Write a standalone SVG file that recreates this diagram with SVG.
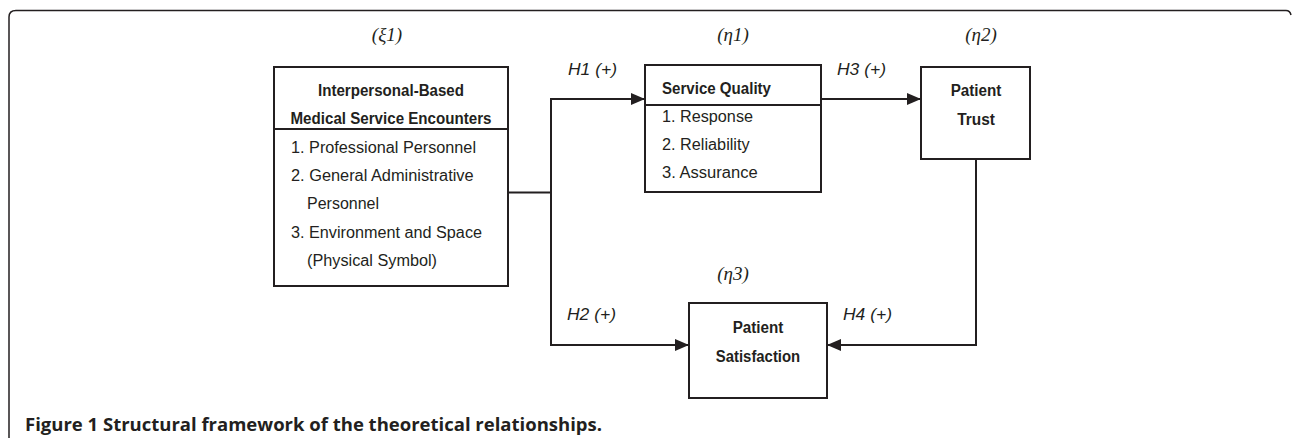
<svg xmlns="http://www.w3.org/2000/svg" width="1292" height="438" viewBox="0 0 1292 438">
<defs>
<style>
.box{fill:#fff;stroke:#231f20;stroke-width:2}
.ln{fill:none;stroke:#231f20;stroke-width:2}
.hd{font-family:"Liberation Sans",Arial,sans-serif;font-weight:bold;font-size:16px;fill:#231f20;text-anchor:middle}
.it{font-family:"Liberation Sans",Arial,sans-serif;font-size:16px;fill:#231f20}
.hl{font-family:"Liberation Sans",Arial,sans-serif;font-style:italic;font-size:16px;fill:#231f20}
.gk{font-family:"Liberation Serif","Times New Roman",serif;font-style:italic;font-size:19px;fill:#231f20;text-anchor:middle}
.cap{font-family:"Open Sans","Noto Sans",sans-serif;font-weight:bold;font-size:18px;fill:#231f20}
</style>
<marker id="arr" markerUnits="userSpaceOnUse" markerWidth="15" markerHeight="13" refX="14" refY="6.5" orient="auto">
<path d="M0,0.5 L14,6.5 L0,12.5 z" fill="#231f20"/>
</marker>
</defs>
<rect width="1292" height="438" fill="#fff"/>
<path d="M9,438 L9,17 Q9,10.5 16,10.5 L1286,10.5 Q1290,10.5 1291,15" fill="none" stroke="#231f20" stroke-width="1.5"/>

<g id="connectors">
<path class="ln" d="M508,192.5 L551,192.5"/>
<path class="ln" d="M551,98.5 L551,345"/>
<path class="ln" d="M550,99 L645,99" marker-end="url(#arr)"/>
<path class="ln" d="M550,345 L689,345" marker-end="url(#arr)"/>
<path class="ln" d="M821,99 L921,99" marker-end="url(#arr)"/>
<path class="ln" d="M976,159 L976,345 L827,345" marker-end="url(#arr)"/>
<text class="hl" x="568" y="75" textLength="49" lengthAdjust="spacingAndGlyphs">H1 (+)</text>
<text class="hl" x="837" y="75" textLength="49" lengthAdjust="spacingAndGlyphs">H3 (+)</text>
<text class="hl" x="567" y="320" textLength="49" lengthAdjust="spacingAndGlyphs">H2 (+)</text>
<text class="hl" x="843" y="320" textLength="49" lengthAdjust="spacingAndGlyphs">H4 (+)</text>
</g>

<g id="node-encounters">
<text class="gk" x="387" y="41">(ξ1)</text>
<rect class="box" x="274" y="67" width="234" height="219"/>
<path class="ln" d="M274,129 L508,129"/>
<text class="hd" x="391" y="96" textLength="146" lengthAdjust="spacingAndGlyphs">Interpersonal-Based</text>
<text class="hd" x="391" y="124" textLength="201" lengthAdjust="spacingAndGlyphs">Medical Service Encounters</text>
<text class="it" x="291" y="152.5" textLength="185" lengthAdjust="spacingAndGlyphs">1. Professional Personnel</text>
<text class="it" x="291" y="181" textLength="182.6" lengthAdjust="spacingAndGlyphs">2. General Administrative</text>
<text class="it" x="307" y="209" textLength="72" lengthAdjust="spacingAndGlyphs">Personnel</text>
<text class="it" x="291" y="237.5" textLength="191" lengthAdjust="spacingAndGlyphs">3. Environment and Space</text>
<text class="it" x="307" y="266" textLength="130" lengthAdjust="spacingAndGlyphs">(Physical Symbol)</text>
</g>

<g id="node-service-quality">
<text class="gk" x="733" y="41">(η1)</text>
<rect class="box" x="645" y="65" width="176" height="127"/>
<path class="ln" d="M645,105 L821,105"/>
<text class="hd" x="662" y="94" style="text-anchor:start" textLength="109" lengthAdjust="spacingAndGlyphs">Service Quality</text>
<text class="it" x="662" y="122" textLength="91" lengthAdjust="spacingAndGlyphs">1. Response</text>
<text class="it" x="662" y="150" textLength="87.6" lengthAdjust="spacingAndGlyphs">2. Reliability</text>
<text class="it" x="662" y="178.3" textLength="95.7" lengthAdjust="spacingAndGlyphs">3. Assurance</text>
</g>

<g id="node-patient-trust">
<text class="gk" x="981" y="41">(η2)</text>
<rect class="box" x="921" y="67" width="109" height="92"/>
<text class="hd" x="976" y="96" textLength="50.7" lengthAdjust="spacingAndGlyphs">Patient</text>
<text class="hd" x="976" y="124.7" textLength="37.7" lengthAdjust="spacingAndGlyphs">Trust</text>
</g>

<g id="node-patient-satisfaction">
<text class="gk" x="733" y="280">(η3)</text>
<rect class="box" x="689" y="303" width="138" height="95"/>
<text class="hd" x="758" y="333.3" textLength="50.7" lengthAdjust="spacingAndGlyphs">Patient</text>
<text class="hd" x="758" y="361.7" textLength="84.3" lengthAdjust="spacingAndGlyphs">Satisfaction</text>
</g>

<text class="cap" x="25" y="431" textLength="577" lengthAdjust="spacingAndGlyphs">Figure 1 Structural framework of the theoretical relationships.</text>
</svg>
